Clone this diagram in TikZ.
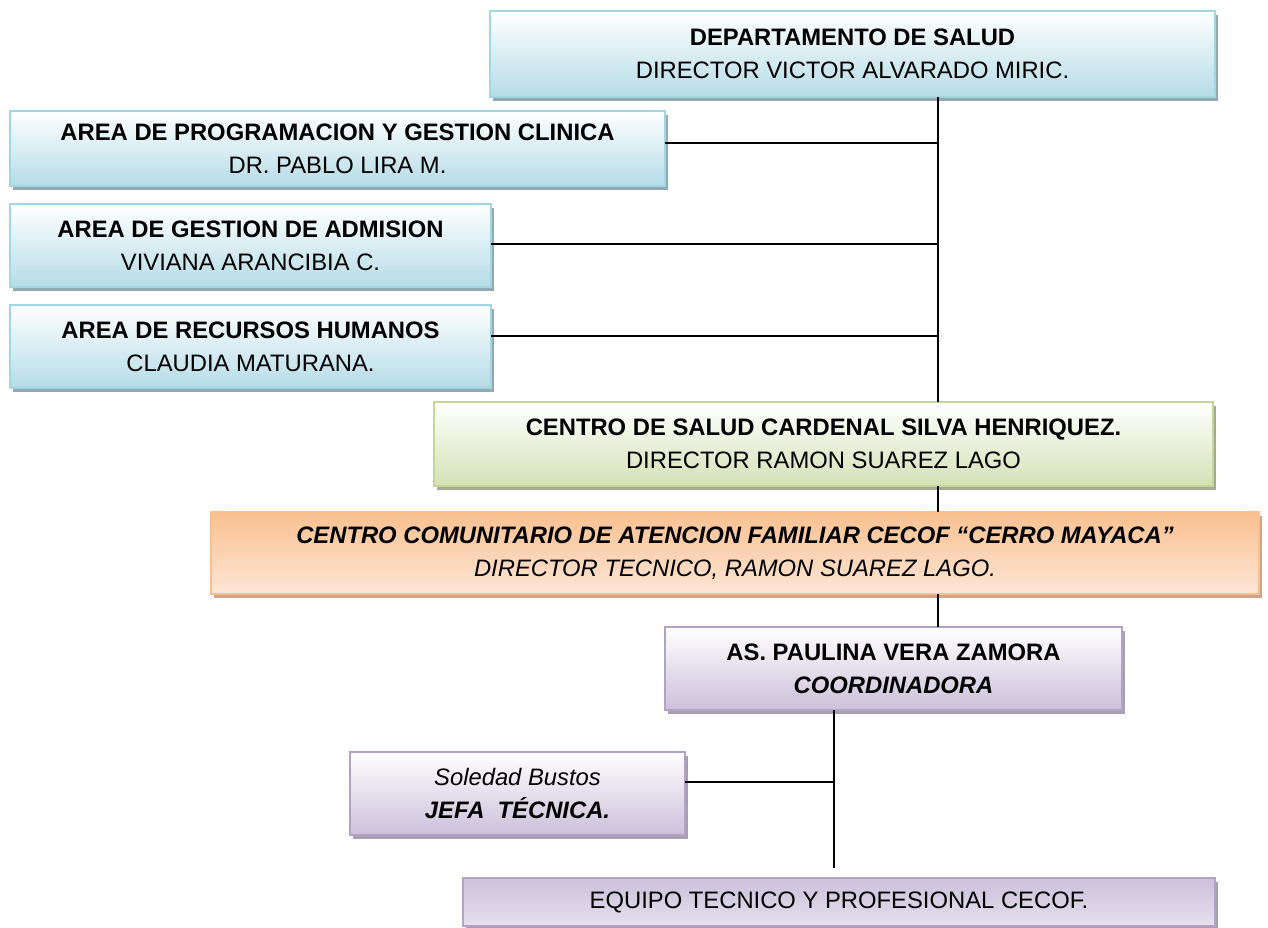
\documentclass[tikz,border=0pt]{standalone}
\usepackage{fontspec}
\setmainfont{Liberation Sans}
\usetikzlibrary{shadows}
\definecolor{BlueLine}{HTML}{A3D6E3}
\definecolor{BlueFill}{HTML}{B5DCE7}
\definecolor{BlueShadow}{HTML}{93A9B1}
\definecolor{GreenLine}{HTML}{C4D79B}
\definecolor{GreenFill}{HTML}{D3E2B6}
\definecolor{GreenShadow}{HTML}{A2AB8E}
\definecolor{OrangeLine}{HTML}{FAC090}
\definecolor{OrangeTop}{HTML}{F9C090}
\definecolor{OrangeBottom}{HTML}{FDE6D6}
\definecolor{OrangeShadow}{HTML}{CFA587}
\definecolor{PurpleLine}{HTML}{B3A2C7}
\definecolor{PurpleFill}{HTML}{CCC0DA}
\definecolor{PurpleLight}{HTML}{E6E0EE}
\definecolor{PurpleShadow}{HTML}{A8A0B2}
\begin{document}
\begin{tikzpicture}[x=1pt,y=-1pt,
  orgbox/.style={draw, line width=2.5pt, inner sep=0pt, outer sep=0pt, align=center,
    font=\fontsize{23.8}{33}\selectfont},
  bluebox/.style={orgbox, draw=BlueLine, top color=white, bottom color=BlueFill,
    drop shadow={shadow xshift=3pt, shadow yshift=-4pt, fill=BlueShadow, opacity=1}},
  greenbox/.style={orgbox, draw=GreenLine, top color=white, bottom color=GreenFill,
    drop shadow={shadow xshift=3pt, shadow yshift=-4pt, fill=GreenShadow, opacity=1}},
  orangebox/.style={orgbox, draw=OrangeLine, top color=OrangeTop, bottom color=OrangeBottom,
    drop shadow={shadow xshift=3pt, shadow yshift=-4pt, fill=OrangeShadow, opacity=1}},
  purplebox/.style={orgbox, draw=PurpleLine, top color=white, bottom color=PurpleFill,
    drop shadow={shadow xshift=3pt, shadow yshift=-4pt, fill=PurpleShadow, opacity=1}},
  purpleinv/.style={orgbox, draw=PurpleLine, top color=PurpleFill, bottom color=PurpleLight,
    drop shadow={shadow xshift=3pt, shadow yshift=-4pt, fill=PurpleShadow, opacity=1}},
  link/.style={line width=1.6pt, black}]
\fill[white] (0,0) rectangle (1268,927);
\useasboundingbox (0,0) rectangle (1268,927);
\clip (0,0) rectangle (1268,927);

\node[bluebox, minimum width=725pt, minimum height=86pt] (dept) at (852.5,54)
  {\textbf{DEPARTAMENTO DE SALUD}\\DIRECTOR VICTOR ALVARADO MIRIC.};
\node[bluebox, minimum width=655pt, minimum height=75pt] (prog) at (337.5,148.5)
  {\textbf{AREA DE PROGRAMACION Y GESTION CLINICA}\\DR. PABLO LIRA M.};
\node[bluebox, minimum width=481pt, minimum height=83pt] (adm) at (250.5,245.5)
  {\textbf{AREA DE GESTION DE ADMISION}\\VIVIANA ARANCIBIA C.};
\node[bluebox, minimum width=481pt, minimum height=83pt] (rrhh) at (250.5,346.5)
  {\textbf{AREA DE RECURSOS HUMANOS}\\CLAUDIA MATURANA.};
\node[greenbox, minimum width=779pt, minimum height=84pt] (green) at (823.5,444)
  {\textbf{CENTRO DE SALUD CARDENAL SILVA HENRIQUEZ.}\\DIRECTOR RAMON SUAREZ LAGO};
\node[orangebox, minimum width=1048pt, minimum height=82pt] (orange) at (735,553)
  {\textbf{\itshape CENTRO COMUNITARIO DE ATENCION FAMILIAR CECOF “CERRO MAYACA”}\\\itshape DIRECTOR TECNICO, RAMON SUAREZ LAGO.};
\node[purplebox, minimum width=457pt, minimum height=83pt] (paul) at (893.5,668.5)
  {\textbf{AS. PAULINA VERA ZAMORA}\\\textbf{\itshape COORDINADORA}};
\node[purplebox, minimum width=335pt, minimum height=83pt] (sol) at (517.5,793.5)
  {\itshape Soledad Bustos\\\textbf{\itshape JEFA\ \ TÉCNICA.}};
\node[purpleinv, minimum width=752pt, minimum height=48pt] (equipo) at (839,902)
  {EQUIPO TECNICO Y PROFESIONAL CECOF.};

\coordinate (sp) at (938,0);
\coordinate (sp2) at (834,0);
\coordinate (h1) at (0,143);
\coordinate (h2) at (0,244);
\coordinate (h3) at (0,336);
\coordinate (h4) at (0,782);
\coordinate (eqend) at (834,868);

\draw[link] (dept.south -| sp) -- (green.north -| sp);
\draw[link] (prog.east |- h1) -- (sp |- h1);
\draw[link] (adm.east |- h2) -- (sp |- h2);
\draw[link] (rrhh.east |- h3) -- (sp |- h3);
\draw[link] (green.south -| sp) -- (orange.north -| sp);
\draw[link] (orange.south -| sp) -- (paul.north -| sp);
\draw[link] (paul.south -| sp2) -- (eqend);
\draw[link] (sol.east |- h4) -- (sp2 |- h4);
\end{tikzpicture}
\end{document}
